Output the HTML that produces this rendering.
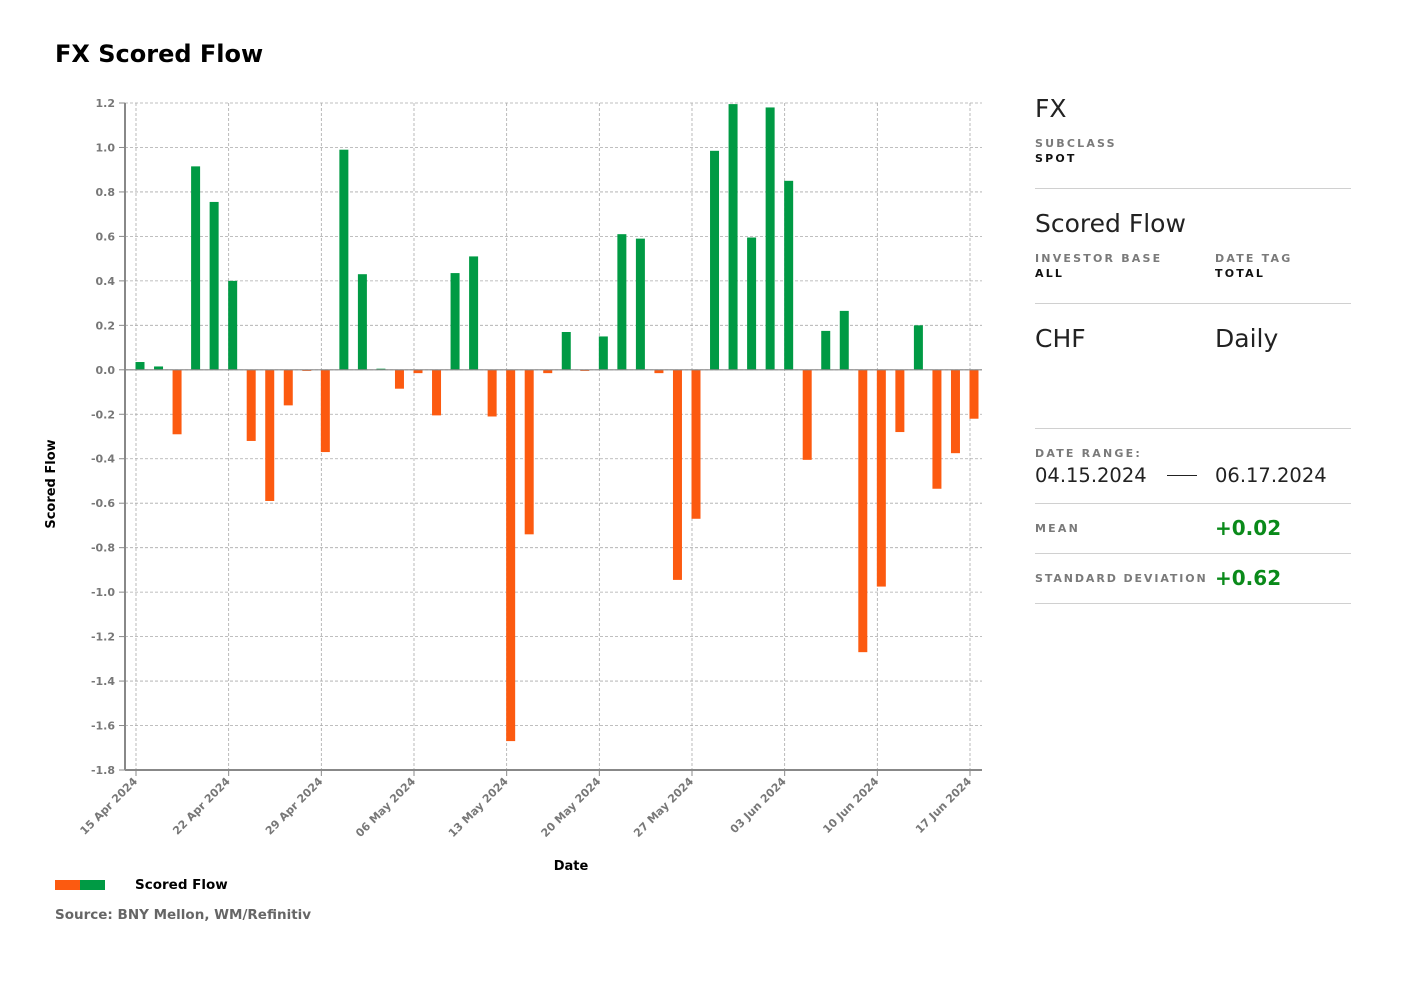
<!DOCTYPE html>
<html><head><meta charset="utf-8">
<style>
body{margin:0;background:#fff;font-family:"DejaVu Sans","Liberation Sans",sans-serif;}
#wrap{position:relative;width:1406px;height:990px;overflow:hidden;}
.abs{position:absolute;white-space:nowrap;}
.lbl{font-size:11px;font-weight:bold;letter-spacing:2.2px;color:#7a7a7a;}
.val{font-size:11px;font-weight:bold;letter-spacing:2.2px;color:#111;}
.big{font-size:25px;color:#222;}
.hr{position:absolute;left:1035px;width:316px;height:1px;background:#d0d0d0;}
</style></head><body>
<div id="wrap">
<div class="abs" style="left:55px;top:40px;font-size:24px;font-weight:bold;color:#000">FX Scored Flow</div>
<svg id="chart" width="1406" height="990" style="position:absolute;left:0;top:0"></svg>

<div class="abs big" style="left:1035px;top:94px">FX</div>
<div class="abs lbl" style="left:1035px;top:137px">SUBCLASS</div>
<div class="abs val" style="left:1035px;top:152px">SPOT</div>
<div class="hr" style="top:188px"></div>
<div class="abs big" style="left:1035px;top:209px">Scored Flow</div>
<div class="abs lbl" style="left:1035px;top:252px">INVESTOR BASE</div>
<div class="abs val" style="left:1035px;top:267px">ALL</div>
<div class="abs lbl" style="left:1215px;top:252px">DATE TAG</div>
<div class="abs val" style="left:1215px;top:267px">TOTAL</div>
<div class="hr" style="top:303px"></div>
<div class="abs big" style="left:1035px;top:324px">CHF</div>
<div class="abs big" style="left:1215px;top:324px">Daily</div>
<div class="hr" style="top:428px"></div>
<div class="abs lbl" style="left:1035px;top:447px">DATE RANGE:</div>
<div class="abs" style="left:1035px;top:464px;font-size:19.5px;color:#222">04.15.2024</div>
<div class="abs" style="left:1167px;top:475px;width:30px;height:1px;background:#222"></div>
<div class="abs" style="left:1215px;top:464px;font-size:19.5px;color:#222">06.17.2024</div>
<div class="hr" style="top:503px"></div>
<div class="abs lbl" style="left:1035px;top:522px">MEAN</div>
<div class="abs" style="left:1215px;top:516px;font-size:20px;font-weight:bold;color:#0a8a1a">+0.02</div>
<div class="hr" style="top:553px"></div>
<div class="abs lbl" style="left:1035px;top:572px;letter-spacing:1.9px">STANDARD DEVIATION</div>
<div class="abs" style="left:1215px;top:566px;font-size:20px;font-weight:bold;color:#0a8a1a">+0.62</div>
<div class="hr" style="top:603px"></div>

<div class="abs" style="left:55px;top:880px;width:25px;height:10px;background:#fc5a10"></div>
<div class="abs" style="left:80px;top:880px;width:25px;height:10px;background:#009a44"></div>
<div class="abs" style="left:135px;top:877px;font-size:13.5px;font-weight:bold;color:#000">Scored Flow</div>
<div class="abs" style="left:55px;top:907px;font-size:13.5px;font-weight:bold;color:#666">Source: BNY Mellon, WM/Refinitiv</div>
</div>
<script>
const values=[0.035,0.015,-0.29,0.915,0.755,0.40,-0.32,-0.59,-0.16,-0.005,-0.37,0.99,0.43,0.005,-0.085,-0.015,-0.205,0.435,0.51,-0.21,-1.67,-0.74,-0.015,0.17,-0.005,0.15,0.61,0.59,-0.015,-0.945,-0.67,0.985,1.195,0.595,1.18,0.85,-0.405,0.175,0.265,-1.27,-0.975,-0.28,0.2,-0.535,-0.375,-0.22];
const yTicks=[1.2,1.0,0.8,0.6,0.4,0.2,0.0,-0.2,-0.4,-0.6,-0.8,-1.0,-1.2,-1.4,-1.6,-1.8];
const xTickLabels=["15 Apr 2024","22 Apr 2024","29 Apr 2024","06 May 2024","13 May 2024","20 May 2024","27 May 2024","03 Jun 2024","10 Jun 2024","17 Jun 2024"];
const NS="http://www.w3.org/2000/svg";
const svg=document.getElementById('chart');
const L=125,R=982,T=103,B=770,yMax=1.2,yMin=-1.8;
const y=v=>T+(yMax-v)/(yMax-yMin)*(B-T);
const firstX=140,lastX=974;
const bx=i=>firstX+i*(lastX-firstX)/(values.length-1);
const tx=k=>136+k*(970-136)/(xTickLabels.length-1);
function el(t,a){const e=document.createElementNS(NS,t);for(const k in a)e.setAttribute(k,a[k]);svg.appendChild(e);return e;}
yTicks.forEach(v=>{
  const g=el('line',{x1:L,x2:R,y1:y(v),y2:y(v),stroke:'#aaa','stroke-dasharray':'3,2','stroke-width':0.8});
  
  
  const tk=el('line',{x1:L-6,x2:L,y1:y(v),y2:y(v),stroke:'#888'});
  
  
  const t=el('text',{x:L-10,y:y(v)+4,'text-anchor':'end','font-size':11,'font-weight':'bold',fill:'#777'});
  t.textContent=v.toFixed(1);
  
  
});
xTickLabels.forEach((lab,k)=>{
  const x=tx(k);
  const g=el('line',{x1:x,x2:x,y1:T,y2:B,stroke:'#aaa','stroke-dasharray':'3,2','stroke-width':0.8});
  
  
  const tk=el('line',{x1:x,x2:x,y1:B,y2:B+6,stroke:'#888'});
  
  
  const t=el('text',{x:x+2,y:B+12,'text-anchor':'end','font-size':11,'font-weight':'bold',fill:'#777',transform:`rotate(-45 ${x+2} ${B+12})`});
  t.textContent=lab;
  
  
});
values.forEach((v,i)=>{
  const y0=y(0),y1=y(v);
  const r=el('rect',{x:bx(i)-4.5,y:Math.min(y0,y1),width:9,height:Math.max(Math.abs(y1-y0),0.8),fill:v>=0?'#009a44':'#fc5a10'});
  
  
});
const z=el('line',{x1:L,x2:R,y1:y(0),y2:y(0),stroke:'#888','stroke-width':1.2});


const ya=el('line',{x1:L,x2:L,y1:T,y2:B,stroke:'#888','stroke-width':2});


const xa=el('line',{x1:L,x2:R,y1:B,y2:B,stroke:'#888','stroke-width':2});


const yt=el('text',{x:55,y:484,'text-anchor':'middle','font-size':13,'font-weight':'bold',fill:'#000',transform:'rotate(-90 55 484)'});
yt.textContent='Scored Flow';


const xt=el('text',{x:571,y:870,'text-anchor':'middle','font-size':13,'font-weight':'bold',fill:'#000'});
xt.textContent='Date';


</script>
</body></html>
